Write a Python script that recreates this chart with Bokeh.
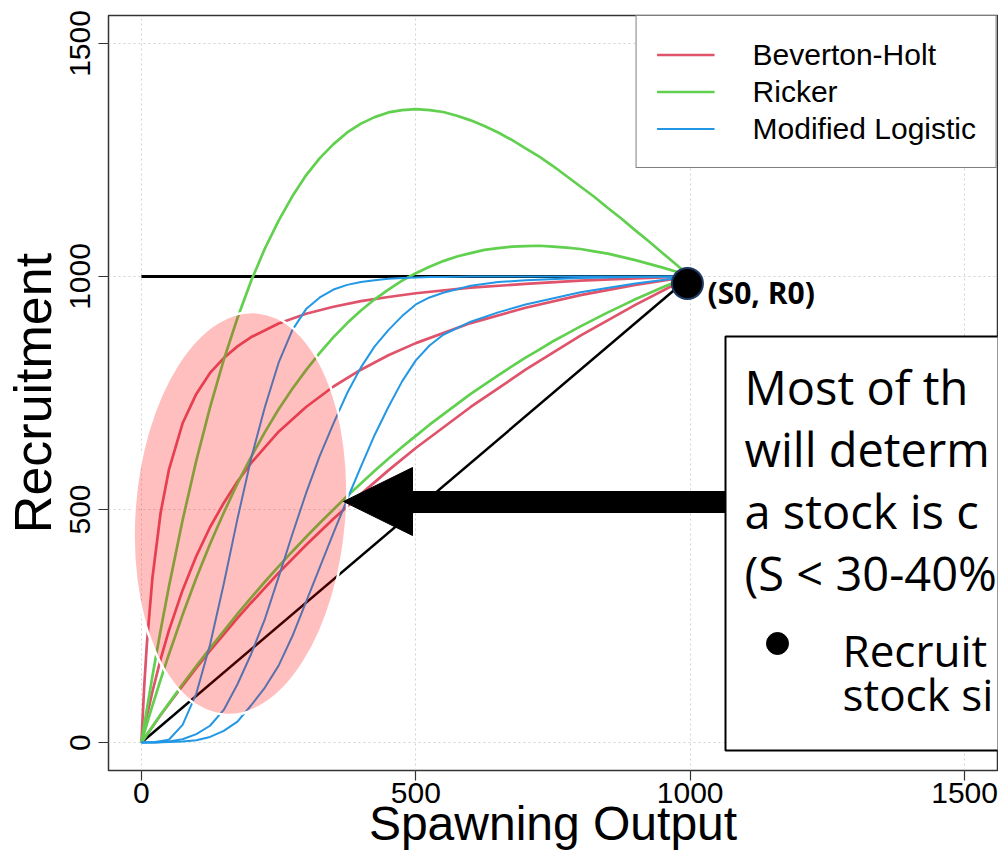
import math
from bokeh.plotting import figure
from bokeh.models import FixedTicker, Label, Range1d
from bokeh.embed import file_html
from bokeh.resources import INLINE
from bokeh.core.properties import value

# ---------------- data ----------------
S_bh = [0, 5, 10, 20, 35, 50, 75, 100, 125, 150, 175, 200, 250, 300, 350, 400, 450, 500, 600, 700, 800, 900, 1000]
bh_high = [0, 119, 213, 353, 493, 585, 685, 748, 793, 825, 850, 870, 899, 920, 935, 947, 956, 964, 976, 984, 991, 996, 1000]
bh_mid = [0, 29, 57, 109, 179, 240, 327, 400, 462, 514, 560, 600, 667, 720, 764, 800, 831, 857, 900, 933, 960, 982, 1000]
bh_low = [0, 8, 17, 34, 59, 83, 122, 160, 197, 232, 267, 300, 364, 424, 480, 533, 584, 632, 720, 800, 873, 939, 1000]

S_rk = [0, 5, 10, 20, 35, 50, 75, 100, 125, 150, 175,
        200, 225, 250, 275, 300, 325, 350, 375, 400, 425, 450, 475, 500, 525, 550, 575, 600,
        625, 650, 675, 700, 725, 750, 775, 800, 825, 850, 875, 900, 925, 950, 975, 1000]
rk_high = [0, 37, 72, 142, 241, 334, 477, 605, 719, 821, 911,
           991, 1060, 1120, 1172, 1217, 1254, 1284, 1309, 1328, 1342, 1352, 1357, 1359, 1357, 1353, 1345, 1335,
           1323, 1309, 1293, 1275, 1257, 1237, 1215, 1193, 1171, 1147, 1124, 1099, 1075, 1050, 1025, 1000]
rk_mid = [0, 20, 40, 79, 135, 189, 274, 353, 426, 493, 556,
          613, 666, 715, 759, 799, 836, 870, 900, 927, 951, 972, 991, 1007, 1021, 1033, 1043, 1050,
          1057, 1061, 1064, 1065, 1066, 1064, 1062, 1059, 1054, 1049, 1042, 1035, 1027, 1019, 1010, 1000]
rk_low = [0, 9, 17, 34, 60, 84, 125, 164, 202, 239, 276,
          311, 345, 378, 410, 441, 471, 500, 529, 556, 583, 609, 634, 658, 682, 704, 726, 748,
          768, 788, 807, 826, 843, 861, 877, 893, 908, 923, 937, 951, 964, 977, 989, 1000]

S_ml = [0, 25, 50, 75, 100, 125, 150, 175, 200, 225, 250, 275, 300, 325, 350, 375, 400, 425, 450, 475, 500, 525, 550, 600, 650, 700, 800, 900, 1000]
ml_1 = [0, 1, 6, 38, 105, 210, 340, 480, 610, 720, 815, 885, 930, 955, 972, 982, 988, 992, 995, 997, 998, 999, 999, 1000, 1000, 1000, 1000, 1000, 1000]
ml_2 = [0, 0, 2, 7, 18, 36, 70, 125, 190, 265, 355, 447, 535, 615, 685, 750, 805, 850, 885, 915, 940, 955, 965, 980, 988, 992, 997, 999, 1000]
ml_3 = [0, 0, 1, 2, 5, 12, 25, 45, 80, 118, 165, 228, 302, 376, 450, 522, 592, 660, 720, 775, 820, 852, 875, 903, 923, 940, 966, 985, 1000]

repl_x = [0, 1000]
repl_y = [0, 1000]
r0_x = [0, 1000]
r0_y = [1000, 1000]
point_x = [995]
point_y = [985]

x_ticks = [0, 500, 1000, 1500]
y_ticks = [0, 500, 1000, 1500]

series_names = ["Beverton-Holt", "Ricker", "Modified Logistic"]
series_colors = ["#DF536B", "#61D04F", "#2297E6"]

box_lines = ["Most of th", "will determ", "a stock is c", "(S < 30-40%"]
bullet_lines = ["Recruit", "stock si"]

# ---------------- figure geometry ----------------
X0, X1 = -60, 1560
Y0, Y1 = -60, 1560
FL, FR, FT, FB = 108, 997, 15, 770
W, H = 998, 852


def dx(px):
    return X0 + (px - FL) * (X1 - X0) / (FR - FL)


def dy(py):
    return Y0 + (FB - py) * (Y1 - Y0) / (FB - FT)


def base(py, size):
    # place an alphabetic baseline at screen row py
    return dy(py - 0.39 * size)


p = figure(width=W, height=H, output_backend="svg", toolbar_location=None,
           x_range=Range1d(X0, X1), y_range=Range1d(Y0, Y1),
           min_border_left=FL, min_border_right=W - FR,
           min_border_top=FT, min_border_bottom=H - FB)
p.background_fill_color = "white"
p.border_fill_color = "white"
p.outline_line_color = "#333333"
p.outline_line_width = 1.5

for ax in (p.xaxis[0], p.yaxis[0]):
    ax.axis_line_color = None
    ax.major_tick_out = 10
    ax.major_tick_in = 0
    ax.major_tick_line_color = "#333333"
    ax.major_tick_line_width = 1.2
    ax.minor_tick_line_color = None
    ax.major_label_text_font = "Liberation Sans"
    ax.major_label_text_font_size = "30px"
    ax.major_label_text_color = "black"
    ax.axis_label_text_font = "Liberation Sans"
    ax.axis_label_text_font_style = "normal"
    ax.axis_label_text_color = "black"
p.xaxis.axis_label_text_font_size = "48px"
p.yaxis.axis_label_text_font_size = "52px"
p.xaxis.ticker = FixedTicker(ticks=x_ticks)
p.yaxis.ticker = FixedTicker(ticks=y_ticks)
p.xaxis.major_label_standoff = 2
p.yaxis.major_label_standoff = 8
p.yaxis.major_label_orientation = "vertical"
p.xaxis.axis_label = "Spawning Output"
p.yaxis.axis_label = "Recruitment"
p.xaxis.axis_label_standoff = -9
p.yaxis.axis_label_standoff = 6

p.xgrid.ticker = FixedTicker(ticks=x_ticks)
p.ygrid.ticker = FixedTicker(ticks=y_ticks)
for g in (p.xgrid[0], p.ygrid[0]):
    g.grid_line_color = "#D3D3D3"
    g.grid_line_dash = "2 3"
    g.grid_line_width = 1

# reference lines
p.line(repl_x, repl_y, line_color="black", line_width=2.5)
p.line(r0_x, r0_y, line_color="black", line_width=2.8)

# curves
p.multi_line([S_bh, S_bh, S_bh], [bh_high, bh_mid, bh_low], line_color=series_colors[0],
             line_width=2.7, legend_label=series_names[0])
p.multi_line([S_rk, S_rk, S_rk], [rk_high, rk_mid, rk_low], line_color=series_colors[1],
             line_width=2.7, legend_label=series_names[1])
p.multi_line([S_ml, S_ml, S_ml], [ml_1, ml_2, ml_3], line_color=series_colors[2],
             line_width=2.0, legend_label=series_names[2])

# highlight ellipse
p.ellipse(x=[dx(240)], y=[dy(513)], width=[212], height=[404],
          width_units="screen", height_units="screen", angle=-0.08,
          fill_color="#FF0000", fill_alpha=0.25, line_color="white", line_width=2.5)

# arrow
arrow_px = [(343, 501), (412, 467), (412, 491), (730, 491), (730, 512), (412, 512), (412, 535)]
p.patch([dx(a) for a, b in arrow_px], [dy(b) for a, b in arrow_px],
        fill_color="black", line_color="black", line_width=1)

# text box
p.quad(left=[dx(725)], right=[dx(1200)], top=[dy(336)], bottom=[dy(750)],
       fill_color="white", line_color="black", line_width=2)
MAIN = 47
SUB = 44
p.text(x=[dx(744)] * 4,
       y=[base(405, MAIN), base(467, MAIN), base(529, MAIN), base(591, MAIN)],
       text=box_lines, text_font=value("Open Sans"), text_font_size=f"{MAIN}px",
       text_color="black", text_baseline="alphabetic", text_align="left")
p.scatter(x=[dx(777)], y=[dy(643)], size=22, marker="circle", fill_color="black", line_color="black")
p.text(x=[dx(842)] * 2, y=[base(667, SUB), base(711, SUB)], text=bullet_lines,
       text_font=value("Open Sans"), text_font_size=f"{SUB}px", text_color="black",
       text_baseline="alphabetic", text_align="left")

# (S0, R0) point
p.scatter(point_x, point_y, size=31, marker="circle", fill_color="black",
          line_color="#1F3864", line_width=2)
p.add_layout(Label(x=dx(707), y=base(304, 30), text="(S0, R0)", text_font="Open Sans",
                   text_font_style="bold", text_font_size="30px", text_color="black",
                   text_baseline="alphabetic"))

# legend
lg = p.legend[0]
lg.location = "top_right"
lg.margin = 0
lg.padding = 20
lg.spacing = 0
lg.label_standoff = 38
lg.glyph_width = 58
lg.glyph_height = 37
lg.label_height = 37
lg.label_text_font = "Liberation Sans"
lg.label_text_font_size = "30px"
lg.label_text_color = "black"
lg.border_line_color = "black"
lg.border_line_width = 1.2
lg.background_fill_alpha = 1.0

open("out.html", "w").write(file_html(p, INLINE))
